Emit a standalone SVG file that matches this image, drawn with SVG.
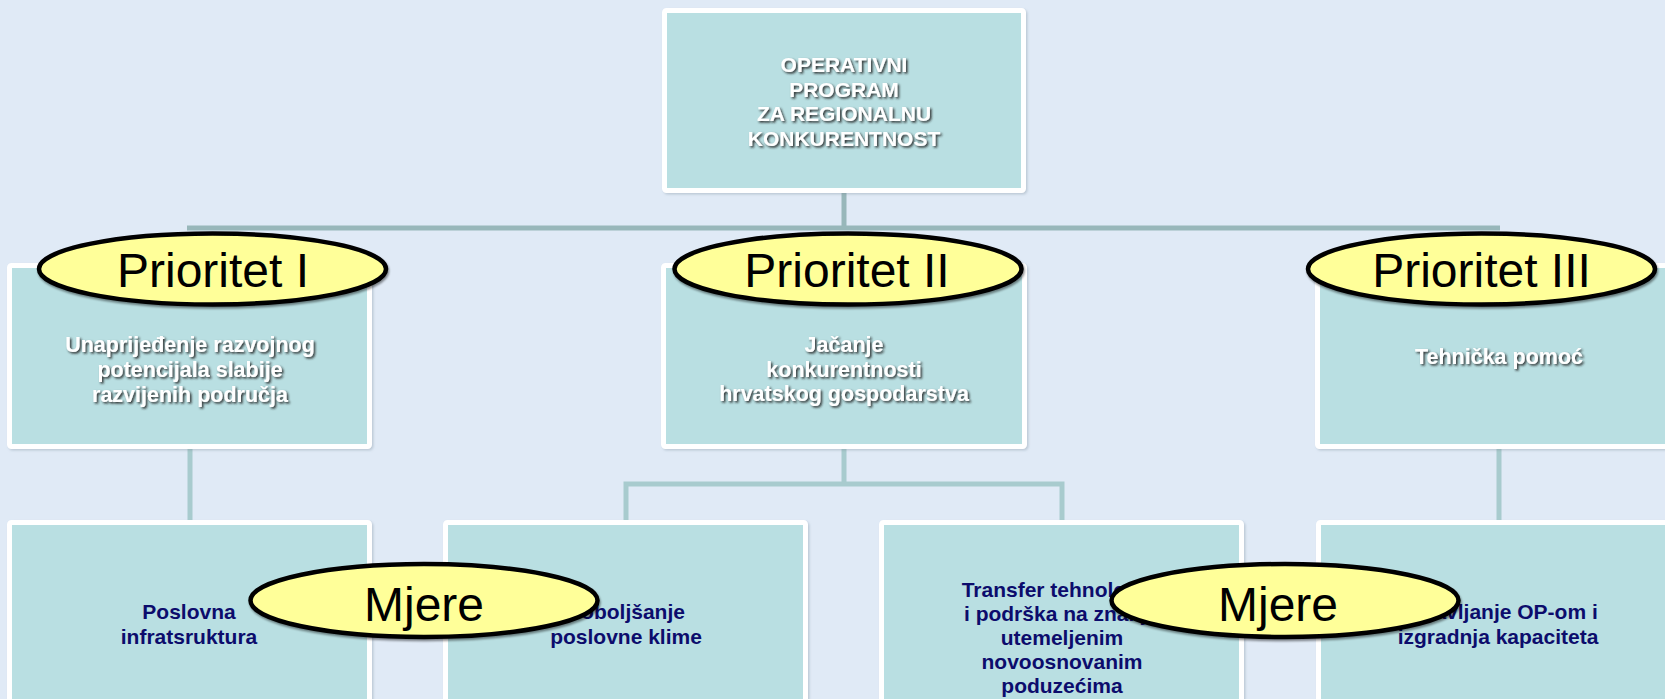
<svg xmlns="http://www.w3.org/2000/svg" width="1665" height="699" viewBox="0 0 1665 699">
<defs>
<filter id="ts" x="-10%" y="-30%" width="120%" height="160%">
<feDropShadow dx="1.6" dy="1.6" stdDeviation="0.8" flood-color="#1e1e1e" flood-opacity="0.9"/>
</filter>
<filter id="es" x="-5%" y="-10%" width="110%" height="130%">
<feDropShadow dx="1" dy="2" stdDeviation="1.2" flood-color="#000" flood-opacity="0.45"/>
</filter>
<filter id="bs" x="-5%" y="-5%" width="110%" height="110%">
<feDropShadow dx="1.5" dy="1.5" stdDeviation="1" flood-color="#7a8a99" flood-opacity="0.35"/>
</filter>
</defs>
<style>
.box{fill:#B9DFE2;stroke:#FFFFFF;stroke-width:5}
.wt{font-family:"Liberation Sans",Arial,sans-serif;font-weight:bold;fill:#FFFFFF;text-anchor:middle}
.nt{font-family:"Liberation Sans",Arial,sans-serif;font-weight:bold;fill:#0C0C6C;text-anchor:middle;font-size:21px}
.oval{fill:#FFFF99;stroke:#000000;stroke-width:4.5}
.ot{font-family:"Liberation Sans",Arial,sans-serif;font-size:48px;fill:#000000;text-anchor:middle}
.c1{stroke:#98B7BA;stroke-width:5;fill:none}
.c2{stroke:#A8CBCE;stroke-width:5;fill:none}
</style>
<rect x="0" y="0" width="1665" height="699" fill="#E0EAF6"/>

<g id="connectors">
<line class="c1" x1="844" y1="190" x2="844" y2="228"/>
<line class="c1" x1="187" y1="228" x2="1500" y2="228"/>
<line class="c2" x1="190" y1="446" x2="190" y2="522"/>
<line class="c2" x1="844" y1="446" x2="844" y2="484"/>
<polyline class="c2" points="626,522 626,484 1062,484 1062,522"/>
<line class="c2" x1="1499" y1="446" x2="1499" y2="522"/>
</g>

<g id="top">
<rect class="box" x="664.5" y="10.5" width="359" height="180" rx="2" filter="url(#bs)"/>
<g class="wt" font-size="21" filter="url(#ts)">
<text x="844" y="72">OPERATIVNI</text>
<text x="844" y="96.5">PROGRAM</text>
<text x="844" y="121">ZA REGIONALNU</text>
<text x="844" y="145.5">KONKURENTNOST</text>
</g>
</g>

<g id="p1">
<rect class="box" x="9.5" y="265.5" width="360" height="181" rx="2" filter="url(#bs)"/>
<g class="wt" font-size="21.5" filter="url(#ts)">
<text x="190" y="352">Unaprijeđenje razvojnog</text>
<text x="190" y="377">potencijala slabije</text>
<text x="190" y="401.5">razvijenih područja</text>
</g>
</g>

<g id="p2">
<rect class="box" x="663.5" y="265.5" width="361" height="181" rx="2" filter="url(#bs)"/>
<g class="wt" font-size="21.5" filter="url(#ts)">
<text x="844" y="352">Jačanje</text>
<text x="844" y="376.5">konkurentnosti</text>
<text x="844" y="400.5">hrvatskog gospodarstva</text>
</g>
</g>

<g id="p3">
<rect class="box" x="1317.5" y="265.5" width="362" height="181" rx="2" filter="url(#bs)"/>
<text class="wt" font-size="21.5" filter="url(#ts)" x="1499" y="364">Tehnička pomoć</text>
</g>

<g id="m1">
<rect class="box" x="9.5" y="522.5" width="360" height="200" rx="2" filter="url(#bs)"/>
<text class="nt" x="189" y="619">Poslovna</text>
<text class="nt" x="189" y="644">infratsruktura</text>
</g>

<g id="m2">
<rect class="box" x="445.5" y="522.5" width="360" height="200" rx="2" filter="url(#bs)"/>
<text class="nt" x="626" y="619">Poboljšanje</text>
<text class="nt" x="626" y="644">poslovne klime</text>
</g>

<g id="m3">
<rect class="box" x="881.5" y="522.5" width="360" height="200" rx="2" filter="url(#bs)"/>
<text class="nt" x="1062" y="596.5">Transfer tehnologije</text>
<text class="nt" x="1062" y="620.5">i podrška na znanju</text>
<text class="nt" x="1062" y="644.5">utemeljenim</text>
<text class="nt" x="1062" y="668.5">novoosnovanim</text>
<text class="nt" x="1062" y="692.5">poduzećima</text>
</g>

<g id="m4">
<rect class="box" x="1318.5" y="522.5" width="362" height="200" rx="2" filter="url(#bs)"/>
<text class="nt" x="1498" y="619">Upravljanje OP-om i</text>
<text class="nt" x="1498" y="644">izgradnja kapaciteta</text>
</g>

<g id="label-p1">
<ellipse class="oval" cx="212.5" cy="269" rx="173.5" ry="35.5" filter="url(#es)"/>
<text class="ot" x="213" y="287">Prioritet I</text>
</g>
<g id="label-p2">
<ellipse class="oval" cx="848" cy="269" rx="173.5" ry="35.5" filter="url(#es)"/>
<text class="ot" x="847" y="287">Prioritet II</text>
</g>
<g id="label-p3">
<ellipse class="oval" cx="1481.5" cy="269" rx="173.5" ry="35.5" filter="url(#es)"/>
<text class="ot" x="1481.5" y="287">Prioritet III</text>
</g>
<g id="label-m1">
<ellipse class="oval" cx="424" cy="600.5" rx="173.5" ry="36.5" filter="url(#es)"/>
<text class="ot" x="424" y="621">Mjere</text>
</g>
<g id="label-m2">
<ellipse class="oval" cx="1285" cy="600.5" rx="173.5" ry="36.5" filter="url(#es)"/>
<text class="ot" x="1278" y="621">Mjere</text>
</g>
</svg>
